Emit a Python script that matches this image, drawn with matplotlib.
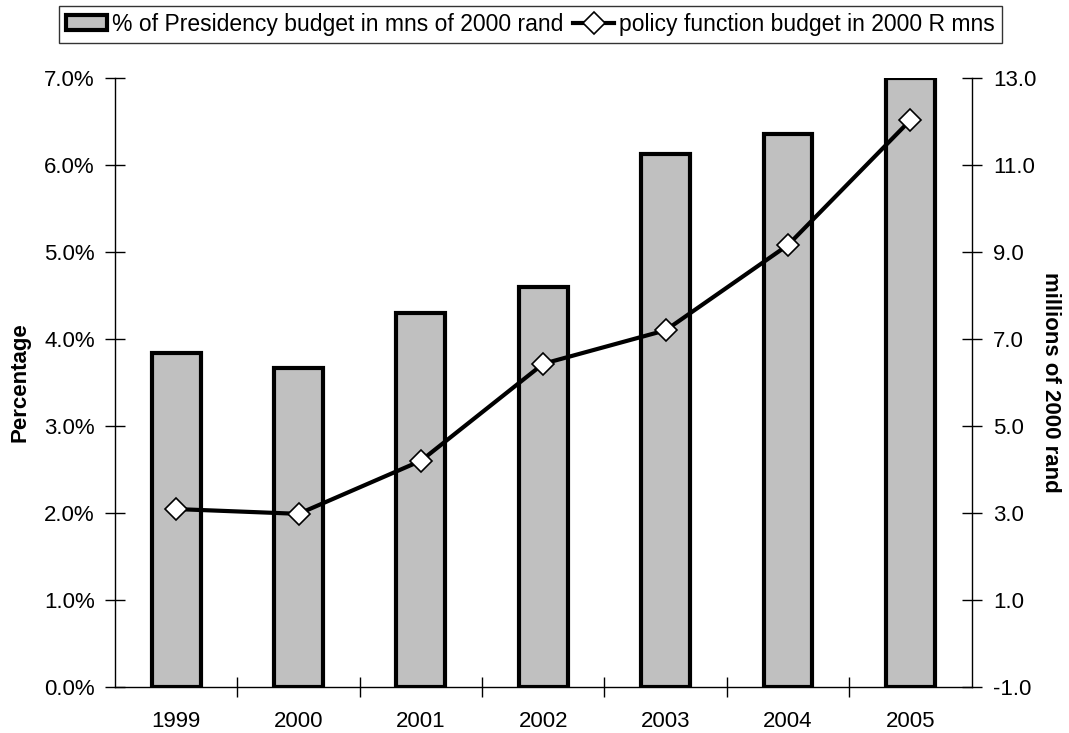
import numpy as np
import matplotlib.pyplot as plt
from matplotlib.ticker import FuncFormatter, FixedLocator

plt.rcParams['font.family'] = ['Liberation Sans', 'DejaVu Sans']

years = ['1999', '2000', '2001', '2002', '2003', '2004', '2005']
pct_presidency = [3.84, 3.67, 4.30, 4.60, 6.13, 6.36, 7.00]
policy_budget = [3.09, 2.98, 4.20, 6.43, 7.20, 9.16, 12.03]

fig = plt.figure(figsize=(10.69, 7.33), dpi=100)
ax = fig.add_axes([0.1076, 0.0628, 0.8012, 0.8308])
ax2 = ax.twinx()

x = np.arange(len(years))
bars = ax.bar(x, pct_presidency, width=0.4, color='#C0C0C0', edgecolor='black',
              linewidth=3, label='% of Presidency budget in mns of 2000 rand', zorder=2)
line, = ax2.plot(x, policy_budget, color='black', linewidth=3, marker='D', markersize=11,
                 markerfacecolor='white', markeredgecolor='black', markeredgewidth=1.2,
                 label='policy function budget in 2000 R mns', zorder=3)

ax.set_xlim(-0.5, len(years) - 0.5)
ax.set_ylim(0, 7)
ax.set_yticks(np.arange(0, 7.01, 1))
ax.yaxis.set_major_formatter(FuncFormatter(lambda v, p: f'{v:.1f}%'))
ax2.set_ylim(-1, 13)
ax2.set_yticks(np.arange(-1, 13.01, 2))
ax2.yaxis.set_major_formatter(FuncFormatter(lambda v, p: f'{v:.1f}'))

ax.set_xticks(x)
ax.set_xticklabels(years)
ax.xaxis.set_minor_locator(FixedLocator(np.arange(0.5, len(years) - 1, 1)))
ax.tick_params(axis='x', which='major', length=0, labelsize=16, pad=17)
ax.tick_params(axis='x', which='minor', length=15, direction='inout', width=1)
ax.tick_params(axis='y', direction='inout', length=15, width=1, labelsize=16, pad=7)
ax2.tick_params(axis='y', direction='inout', length=15, width=1, labelsize=16, pad=8)

for a in (ax, ax2):
    a.spines['top'].set_visible(False)
    for s in ('left', 'right', 'bottom'):
        a.spines[s].set_linewidth(1)
ax.spines['right'].set_visible(False)
ax2.spines['left'].set_visible(False)
ax2.spines['bottom'].set_visible(False)

ax.set_ylabel('Percentage', fontsize=16, fontweight='bold', labelpad=10)
ax2.set_ylabel('millions of 2000 rand', fontsize=16, fontweight='bold', rotation=270, labelpad=18)

leg = fig.legend([bars, line], [bars.get_label(), line.get_label()], loc='center',
                 bbox_to_anchor=(0.496, 0.967), ncol=2, fontsize=16.5, frameon=True,
                 fancybox=False, edgecolor='black', handlelength=1.8, handleheight=0.65,
                 handletextpad=0.2, columnspacing=0.45, borderpad=0.3, borderaxespad=0)
leg.get_frame().set_linewidth(1)

fig.savefig('out.png', dpi=100)
